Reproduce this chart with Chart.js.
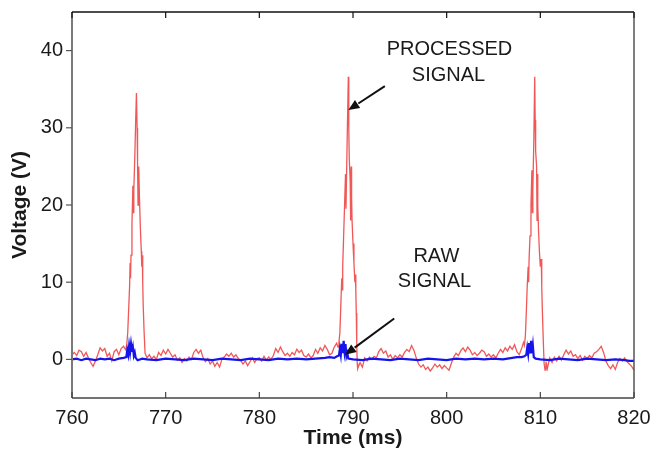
<!DOCTYPE html>
<html>
<head>
<meta charset="utf-8">
<script src="https://cdn.jsdelivr.net/npm/chart.js@4.4.0/dist/chart.umd.min.js"></script>
<style>
    html, body { margin: 0; padding: 0; background: #fff; }
    #contenedor { width: 660px; height: 452px; }
</style>
</head>
<body>
<div id="contenedor"><canvas id="grafico" width="660" height="452"></canvas></div>
<script>
// Datos (tiempo en ms, voltaje en V)
const tiempoProcesada = [
    760.0, 760.25, 760.5, 760.75, 761.0, 761.25, 761.5, 761.75, 762.0, 762.25, 762.5, 762.75,
    763.0, 763.25, 763.5, 763.75, 764.0, 764.25, 764.5, 764.75, 765.0, 765.25, 765.5, 765.75,
    765.85, 765.95, 766.05, 766.15, 766.2, 766.25, 766.3, 766.4, 766.5, 766.55, 766.6, 766.7,
    766.8, 766.88, 766.95, 767.0, 767.05, 767.1, 767.15, 767.2, 767.3, 767.4, 767.45, 767.5,
    767.55, 767.6, 767.7, 767.8,
    768.0, 768.25, 768.5, 768.75, 769.0, 769.25, 769.5, 769.75, 770.0, 770.25, 770.5, 770.75,
    771.0, 771.25, 771.5, 771.75, 772.0, 772.25, 772.5, 772.75, 773.0, 773.25, 773.5, 773.75,
    774.0, 774.25, 774.5, 774.75, 775.0, 775.25, 775.5, 775.75, 776.0, 776.25, 776.5, 776.75,
    777.0, 777.25, 777.5, 777.75, 778.0, 778.25, 778.5, 778.75, 779.0, 779.25, 779.5, 779.75,
    780.0, 780.25, 780.5, 780.75, 781.0, 781.25, 781.5, 781.75, 782.0, 782.25, 782.5, 782.75,
    783.0, 783.25, 783.5, 783.75, 784.0, 784.25, 784.5, 784.75, 785.0, 785.25, 785.5, 785.75,
    786.0, 786.25, 786.5, 786.75, 787.0, 787.25, 787.5, 787.75, 788.0, 788.25, 788.4,
    788.5, 788.6, 788.7, 788.8, 788.85, 788.9, 789.0, 789.1, 789.2, 789.25, 789.3, 789.4,
    789.5, 789.55, 789.6, 789.7, 789.75, 789.8, 789.85, 789.9, 790.0, 790.1, 790.2, 790.25,
    790.3, 790.35, 790.4, 790.45,
    790.5, 790.75, 791.0, 791.25, 791.5, 791.75, 792.0, 792.25, 792.5, 792.75, 793.0, 793.25,
    793.5, 793.75, 794.0, 794.25, 794.5, 794.75, 795.0, 795.25, 795.5, 795.75, 796.0, 796.25,
    796.5, 796.75, 797.0, 797.25, 797.5, 797.75, 798.0, 798.25, 798.5, 798.75, 799.0, 799.25,
    799.5, 799.75, 800.0, 800.25, 800.5, 800.75, 801.0, 801.25, 801.5, 801.75, 802.0, 802.25,
    802.5, 802.75, 803.0, 803.25, 803.5, 803.75, 804.0, 804.25, 804.5, 804.75, 805.0, 805.25,
    805.5, 805.75, 806.0, 806.25, 806.5, 806.75, 807.0, 807.25, 807.5, 807.75, 808.0, 808.2,
    808.3, 808.4, 808.5, 808.6, 808.7, 808.75, 808.8, 808.9, 809.0, 809.1, 809.15, 809.2,
    809.3, 809.4, 809.45, 809.5, 809.6, 809.65, 809.7, 809.75, 809.8, 809.9, 810.0, 810.1,
    810.15, 810.2, 810.3, 810.4,
    810.5, 810.6, 810.75, 811.0, 811.25, 811.5, 811.75, 812.0, 812.25, 812.5, 812.75, 813.0,
    813.25, 813.5, 813.75, 814.0, 814.25, 814.5, 814.75, 815.0, 815.25, 815.5, 815.75, 816.0,
    816.25, 816.5, 816.75, 817.0, 817.25, 817.5, 817.75, 818.0, 818.25, 818.5, 818.75, 819.0,
    819.25, 819.5, 819.75, 820.0
]
const voltajeProcesada = [
    0.6, 0.9, 0.5, 1.2, 1.0, 0.4, 0.9, 0.2, -0.4, -0.9, -0.2, 0.6,
    1.5, 1.1, 1.4, 0.4, 0.8, -0.2, 1.0, 1.3, 0.6, 1.4, 1.7, 1.2,
    2.0, 3.5, 6.5, 9.5, 12.5, 10.5, 13.5, 17.5, 22.5, 19.0, 22.0, 26.0,
    31.0, 34.5, 30.0, 25.5, 20.0, 23.0, 25.0, 21.0, 17.0, 14.0, 12.0, 13.5,
    10.0, 7.0, 3.5, 0.8,
    0.2, 0.6, 0.1, 0.4, 0.0, 0.9, 0.5, 1.2, 0.7, 1.3, 0.8, 0.3,
    0.6, -0.1, 0.2, -0.4, 0.1, -0.2, 0.3, 0.0, 0.9, 1.3, 0.8, 1.2,
    0.2, -0.3, 0.1, -0.6, -0.2, -0.9, -0.4, -1.0, 0.0, 0.3, 0.7, 0.4,
    0.8, 0.3, 0.6, 0.1, -0.1, -0.6, -0.2, -0.8, -0.3, 0.2, -0.4, 0.1,
    0.2, -0.2, 0.4, -0.1, 0.3, 0.0, 0.5, 1.4, 0.9, 1.6, 1.0, 0.5,
    0.8, 0.4, 0.9, 0.6, 1.3, 0.9, 1.2, 0.5, 0.3, 0.7, 0.2, 0.5,
    1.3, 0.8, 1.5, 1.1, 1.8, 1.3, 0.6, 0.8, 1.6, 2.1, 1.6,
    2.2, 3.5, 7.0, 10.5, 9.0, 12.0, 16.0, 20.0, 24.0, 19.5, 23.0, 30.0,
    36.6, 30.0, 26.0, 23.0, 18.0, 25.0, 21.0, 18.0, 15.0, 12.5, 10.0, 11.0,
    9.0, 6.0, 2.0, -0.5,
    -1.2, -0.4, -1.0, 0.2, -0.2, 0.3, 0.0, 0.4, 0.2, 1.0, 1.4, 0.8,
    1.1, 0.3, 0.6, 0.0, 0.5, 0.2, 0.6, 0.3, 0.9, 1.3, 1.0, 1.8,
    1.2, 0.2, -0.6, -1.0, -0.7, -1.3, -1.0, -1.5, -1.1, -0.6, -1.0, -0.7,
    -1.2, -0.8, -1.1, -1.4, -0.5, 0.3, 0.8, 0.5, 1.1, 1.5, 1.0, 1.6,
    1.2, 0.6, 0.9, 0.5, 0.8, 1.2, 1.0, 0.4, 0.7, 0.3, 0.6, 0.2,
    0.8, 1.3, 0.9, 1.5, 1.1, 1.7, 1.3, 1.9, 1.0, 0.6, 1.4, 2.2,
    1.8, 3.0, 6.0, 9.5, 12.0, 10.0, 13.0, 16.0, 20.0, 24.5, 19.0, 22.0,
    28.0, 36.6, 31.0, 27.0, 25.0, 18.0, 24.0, 20.0, 17.0, 14.0, 12.0, 13.0,
    9.5, 7.0, 3.0, -0.5,
    -1.4, -0.3, -1.2, 0.2, -0.4, 0.3, -0.2, 0.4, -0.1, 0.6, 1.2, 0.7,
    1.1, 0.4, 0.6, 0.1, 0.5, -0.1, 0.4, 0.1, 0.5, 0.2, 0.8, 1.0,
    1.3, 1.7, 0.9, -0.2, -0.8, -1.2, -0.7, -1.3, -0.4, 0.1, -0.2, 0.2,
    -0.3, -0.6, -0.9, -1.4
]

const tiempoCruda = [
    760.0, 760.5, 761.0, 761.5, 762.0, 762.5, 763.0, 763.5, 764.0, 764.5, 765.0, 765.5,
    765.8, 765.9, 766.0, 766.1, 766.2, 766.3, 766.4, 766.5, 766.6, 766.7, 766.8, 767.0,
    767.5, 768.0, 769.0, 770.0, 771.0, 772.0, 773.0, 774.0, 775.0, 776.0, 777.0, 778.0,
    779.0, 780.0, 781.0, 782.0, 783.0, 784.0, 785.0, 786.0, 787.0, 787.5, 788.0, 788.3,
    788.5, 788.6, 788.7, 788.8, 788.9, 789.0, 789.1, 789.2, 789.3, 789.4, 789.5, 790.0,
    791.0, 792.0, 793.0, 794.0, 795.0, 796.0, 797.0, 798.0, 799.0, 800.0, 801.0, 802.0,
    803.0, 804.0, 805.0, 806.0, 807.0, 807.5, 808.0, 808.3, 808.5, 808.6, 808.7, 808.8,
    808.9, 809.0, 809.1, 809.2, 809.3, 809.5, 810.0, 811.0, 812.0, 813.0, 814.0, 815.0,
    816.0, 817.0, 818.0, 819.0, 819.5, 820.0
]
const voltajeCruda = [
    0.0, 0.1, -0.1, 0.1, 0.0, -0.1, 0.1, 0.0, 0.1, -0.1, 0.1, 0.2,
    0.3, 1.2, 0.6, 1.8, 0.9, 2.0, 1.0, 1.6, 0.5, 0.9, 0.2, -0.1,
    0.1, 0.0, -0.1, 0.1, 0.0, -0.1, 0.1, 0.0, -0.1, 0.1, 0.0, -0.1,
    0.1, 0.0, -0.1, 0.1, 0.0, 0.1, 0.0, 0.1, 0.2, 0.3, 0.2, 0.4,
    0.5, 1.4, 0.6, 2.0, 0.8, 2.4, 1.0, 2.0, 0.4, 0.8, 0.1, 0.0,
    -0.1, 0.1, 0.0, -0.1, 0.1, 0.0, -0.1, 0.1, 0.0, -0.1, 0.1, 0.0,
    0.1, 0.0, 0.1, 0.0, 0.2, 0.3, 0.3, 0.4, 0.6, 1.5, 0.7, 2.1,
    0.9, 2.4, 0.8, 1.8, 0.3, 0.1, 0.0, -0.1, 0.1, 0.0, -0.1, 0.1,
    0.0, -0.1, 0.0, -0.1, -0.2, -0.2
]

// Ejes
const ticksTiempo = [760, 770, 780, 790, 800, 810, 820]
const ticksVoltaje = [0, 10, 20, 30, 40]

// Anotaciones (en coordenadas de datos)
const textosAnotacion = [
    { texto: 'PROCESSED', t: 800.3, v: 40.2 },
    { texto: 'SIGNAL', t: 800.2, v: 36.8 },
    { texto: 'RAW', t: 798.9, v: 13.3 },
    { texto: 'SIGNAL', t: 798.7, v: 10.1 }
]
const flechas = [
    { desde: [793.4, 35.4], hasta: [789.5, 32.3] },
    { desde: [794.4, 5.3], hasta: [789.15, 0.6] }
]

const fuente = "'Liberation Sans', Arial, sans-serif"
const colorTexto = '#1a1a1a'

const aPuntos = (ts, vs) => ts.map((t, i) => ({ x: t, y: vs[i] }))

// Plugin: marco, marcas de eje y anotaciones con flechas
const marcoYAnotaciones = {
    id: 'marcoYAnotaciones',
    afterDraw(chart) {
        const { ctx, chartArea: area, scales: { x, y } } = chart
        ctx.save()

        const linea = (x1, y1, x2, y2, color, ancho) => {
            ctx.beginPath()
            ctx.strokeStyle = color
            ctx.lineWidth = ancho
            ctx.moveTo(x1, y1)
            ctx.lineTo(x2, y2)
            ctx.stroke()
        }

        // marco
        linea(area.left, area.top, area.left, area.bottom, '#7a7a7a', 2)
        linea(area.left, area.bottom, area.right, area.bottom, '#444', 1.5)
        linea(area.left, area.top, area.right, area.top, '#111', 1.5)
        linea(area.right, area.top, area.right, area.bottom, '#555', 1.5)

        // marcas
        ticksTiempo.forEach(t => {
            const px = x.getPixelForValue(t)
            linea(px, area.bottom, px, area.bottom - 6, '#444', 1.2)
            linea(px, area.top, px, area.top + 6, '#111', 1.2)
        })
        ticksVoltaje.forEach(v => {
            const py = y.getPixelForValue(v)
            linea(area.left - 6, py, area.left, py, '#555', 1.2)
        })

        // textos
        ctx.fillStyle = colorTexto
        ctx.font = '20px ' + fuente
        ctx.textAlign = 'center'
        ctx.textBaseline = 'middle'
        textosAnotacion.forEach(a => {
            ctx.fillText(a.texto, x.getPixelForValue(a.t), y.getPixelForValue(a.v))
        })

        // flechas
        flechas.forEach(f => {
            const x1 = x.getPixelForValue(f.desde[0])
            const y1 = y.getPixelForValue(f.desde[1])
            const x2 = x.getPixelForValue(f.hasta[0])
            const y2 = y.getPixelForValue(f.hasta[1])
            const ang = Math.atan2(y2 - y1, x2 - x1)
            const largo = 12
            const abre = 0.4
            const bx = x2 - largo * Math.cos(ang)
            const by = y2 - largo * Math.sin(ang)
            linea(x1, y1, bx, by, '#111', 2)
            ctx.beginPath()
            ctx.fillStyle = '#111'
            ctx.moveTo(x2, y2)
            ctx.lineTo(x2 - largo * Math.cos(ang - abre), y2 - largo * Math.sin(ang - abre))
            ctx.lineTo(x2 - largo * Math.cos(ang + abre), y2 - largo * Math.sin(ang + abre))
            ctx.closePath()
            ctx.fill()
        })

        ctx.restore()
    }
}

const ctx = document.getElementById('grafico').getContext('2d')
new Chart(ctx, {
    type: 'line',
    data: {
        datasets: [
            {
                label: 'Processed signal',
                data: aPuntos(tiempoProcesada, voltajeProcesada),
                borderColor: 'rgb(240, 88, 88)',
                borderWidth: 1.3,
                pointRadius: 0,
                tension: 0,
                order: 2
            },
            {
                label: 'Raw signal',
                data: aPuntos(tiempoCruda, voltajeCruda),
                borderColor: 'rgb(20, 20, 235)',
                borderWidth: 2.2,
                pointRadius: 0,
                tension: 0,
                order: 1
            }
        ]
    },
    options: {
        responsive: false,
        animation: false,
        events: [],
        layout: {
            padding: { left: 0, top: 12, right: 26, bottom: 0 }
        },
        plugins: {
            legend: { display: false },
            tooltip: { enabled: false }
        },
        scales: {
            x: {
                type: 'linear',
                min: 760,
                max: 820,
                afterFit: (scale) => {
                    scale.height = 54
                    scale.paddingLeft = 0
                    scale.paddingRight = 0
                },
                afterBuildTicks: (scale) => {
                    scale.ticks = ticksTiempo.map(v => ({ value: v }))
                },
                grid: { display: false, drawTicks: false },
                border: { display: false },
                ticks: {
                    padding: 8,
                    color: colorTexto,
                    font: { family: fuente, size: 20 },
                    maxRotation: 0
                },
                title: {
                    display: true,
                    text: 'Time (ms)',
                    color: colorTexto,
                    font: { family: fuente, size: 21, weight: 'bold' },
                    padding: { top: 0, bottom: 1 }
                }
            },
            y: {
                min: -5,
                max: 45,
                afterFit: (scale) => {
                    scale.width = 72
                    scale.paddingTop = 0
                    scale.paddingBottom = 0
                },
                afterBuildTicks: (scale) => {
                    scale.ticks = ticksVoltaje.map(v => ({ value: v }))
                },
                grid: { display: false, drawTicks: false },
                border: { display: false },
                ticks: {
                    padding: 9,
                    color: colorTexto,
                    font: { family: fuente, size: 20 }
                },
                title: {
                    display: true,
                    text: 'Voltage (V)',
                    color: colorTexto,
                    font: { family: fuente, size: 21, weight: 'bold' },
                    padding: { top: 8, bottom: 0 }
                }
            }
        }
    },
    plugins: [marcoYAnotaciones]
})
</script>
</body>
</html>
